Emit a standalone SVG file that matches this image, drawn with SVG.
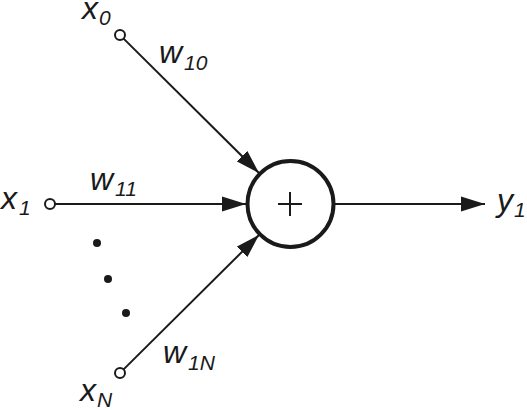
<svg xmlns="http://www.w3.org/2000/svg" width="527" height="410" viewBox="0 0 527 410">
<defs>
<marker id="arr" markerUnits="userSpaceOnUse" markerWidth="26" markerHeight="16" refX="24" refY="8" orient="auto">
<path d="M0,0.5 L24,8 L0,15.5 z" fill="#1a1a1a"/>
</marker>
<style>
.ln{stroke:#1a1a1a;stroke-width:2;fill:none}
.term{stroke:#1a1a1a;stroke-width:2;fill:#fff}
.t{font-family:"Liberation Sans",Arial,sans-serif;font-style:italic;fill:#1a1a1a;font-size:32px}
.s{font-size:21px}
.dot{fill:#1a1a1a}
</style>
</defs>
<rect width="527" height="410" fill="#fff"/>
<g id="connectors">
<line class="ln" x1="123.6" y1="38.6" x2="259" y2="173" marker-end="url(#arr)"/>
<line class="ln" x1="55" y1="204" x2="246" y2="204" marker-end="url(#arr)"/>
<line class="ln" x1="123.6" y1="369.4" x2="259" y2="235" marker-end="url(#arr)"/>
<line class="ln" x1="334" y1="204" x2="485" y2="204" marker-end="url(#arr)"/>
</g>
<g id="sum">
<circle cx="290.5" cy="204" r="43" fill="#fff" stroke="#1a1a1a" stroke-width="4"/>
<path class="ln" d="M278,204 H302 M290,192 V216"/>
</g>
<g id="x0">
<circle class="term" cx="120" cy="35" r="5"/>
<text class="t" x="82" y="19">x<tspan class="s" dx="1" dy="6">0</tspan></text>
</g>
<g id="x1">
<circle class="term" cx="50" cy="204" r="5"/>
<text class="t" x="1" y="209">x<tspan class="s" dx="2" dy="6">1</tspan></text>
</g>
<g id="xN">
<circle class="term" cx="120" cy="373" r="5"/>
<text class="t" x="80" y="401">x<tspan class="s" dx="1" dy="6">N</tspan></text>
</g>
<g id="y1">
<text class="t" x="497" y="211">y<tspan class="s" dx="1" dy="6">1</tspan></text>
</g>
<g id="labels">
<text class="t" x="159" y="63">w<tspan class="s" dx="2" dy="7">10</tspan></text>
<text class="t" x="90" y="190">w<tspan class="s" dx="2" dy="6">11</tspan></text>
<text class="t" x="163" y="363">w<tspan class="s" dx="2" dy="7">1N</tspan></text>
</g>
<g id="dots">
<circle class="dot" cx="97" cy="243" r="4"/>
<circle class="dot" cx="108" cy="279" r="4"/>
<circle class="dot" cx="126" cy="313" r="4"/>
</g>
</svg>
